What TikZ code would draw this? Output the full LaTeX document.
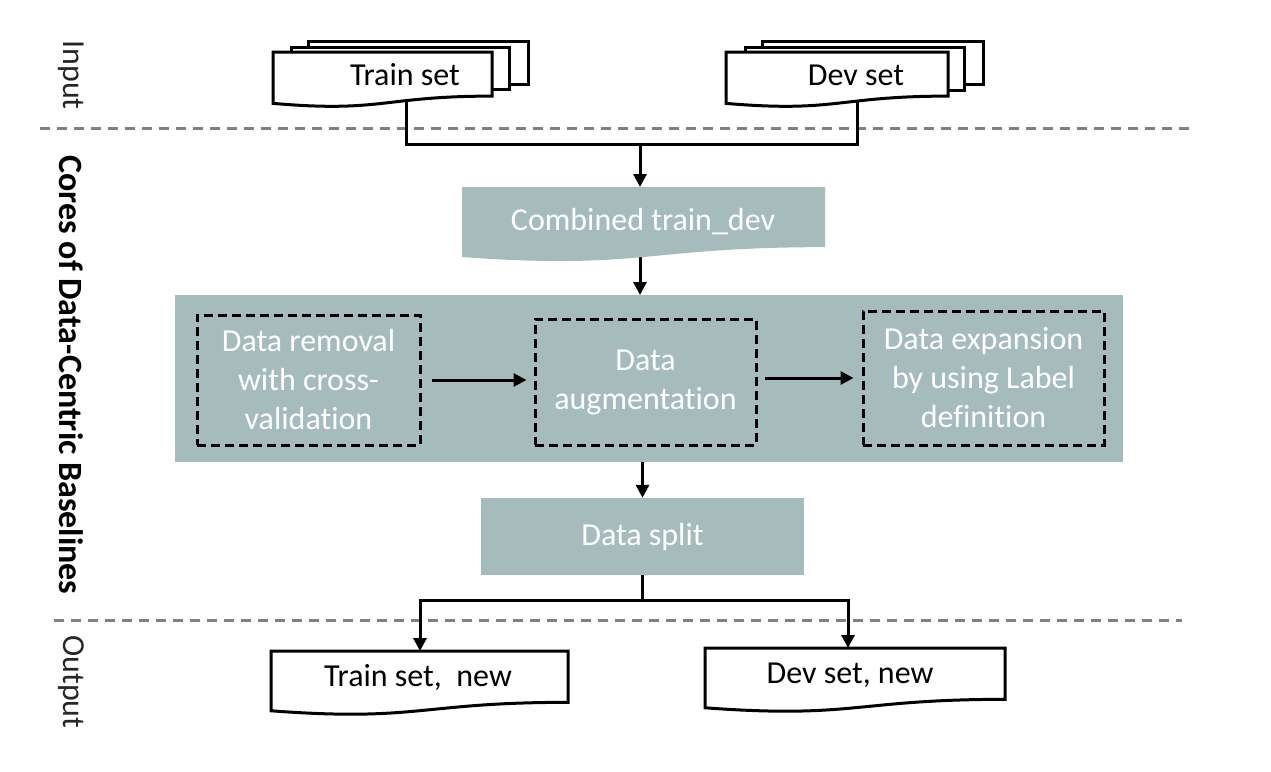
\documentclass[tikz,border=0pt]{standalone}
\usepackage{fontspec}
\setmainfont[Ligatures=NoCommon]{Carlito}
\usetikzlibrary{arrows.meta}
\definecolor{boxfill}{RGB}{166,187,188}
\definecolor{sepgray}{RGB}{128,128,128}
\newcommand\docshape[5]{%
  \path[#1] (#2,#3) -- (#4,#3) -- (#4,{#3+0.802*(#5)})
    .. controls ({(#2+#4)/2},{#3+0.802*(#5)}) and ({(#2+#4)/2},{#3+1.1075*(#5)}) ..
    (#2,{#3+0.934*(#5)}) -- cycle;}
\begin{document}
\begin{tikzpicture}[x=1pt,y=-1pt,
  conn/.style={line width=3pt,-{Triangle[length=13pt,width=13pt]}},
  plain/.style={line width=3pt},
  sep/.style={sepgray,line width=3pt,dash pattern=on 10pt off 7pt},
  dbox/.style={draw=black,line width=3pt,dash pattern=on 9pt off 5pt,
    text=white,font=\fontsize{32}{39}\selectfont,align=center,inner sep=0pt},
  fillbox/.style={fill=boxfill,inner sep=0pt,text=white,
    font=\fontsize{32}{39}\selectfont,align=center},
  wtext/.style={text=white,font=\fontsize{32}{39}\selectfont,align=center,inner sep=0pt},
  btext/.style={text=black,font=\fontsize{32}{39}\selectfont,align=center,inner sep=0pt},
  doc/.style={draw=black,line width=3pt,fill=white},
  side/.style={rotate=-90,font=\fontsize{32}{39}\selectfont,inner sep=0pt,text=black!85},
]
\useasboundingbox[fill=white] (0,0) rectangle (1271,771);

% separators
\draw[sep] (40,128) -- (1192,128);
\draw[sep] (54,620) -- (1182,620);

% side labels
\node[side] (lin) at (71,75) {Input};
\node[side,font=\fontsize{34}{40}\selectfont\bfseries,text=black] (lcore) at (71,375) {Cores of Data-Centric Baselines};
\node[side] (lout) at (71,682) {Output};

% top connectors (drawn first, hidden under the documents)
\coordinate (tout) at (406,92);
\coordinate (dout) at (857,92);
\coordinate (j) at (640,144);
\draw[plain] (tout) |- (j) -| (dout);
\coordinate (combtop) at (640,187);
\draw[conn] (j) -- (combtop);

% input documents
\draw[doc] (308,41) rectangle (528,84);
\draw[doc] (291,47) rectangle (509,89);
\docshape{doc}{273}{52}{492}{55}
\node[btext] (train) at (405,75) {Train set};

\draw[doc] (762,41) rectangle (983,84);
\draw[doc] (745,47) rectangle (964,90);
\docshape{doc}{726}{52}{948}{55}
\node[btext] (dev) at (856,75) {Dev set};

% combined
\coordinate (combout) at (640,240);
\node[fillbox,minimum width=948pt,minimum height=167pt,anchor=north west] (core) at (175,295) {};
\draw[conn] (combout) -- (combout |- core.north);
\docshape{fill=boxfill}{462}{187}{825}{75}
\node[wtext] (comb) at (643,222) {Combined train\_dev};

% inner steps
\node[dbox,minimum width=223pt,minimum height=130pt] (b1) at (308.5,380)
  {Data removal\\with cross-\\validation};
\node[dbox,minimum width=221pt,minimum height=126pt] (b2) at (645.5,382)
  {Data\\augmentation};
\node[dbox,minimum width=241pt,minimum height=134pt] (b3) at (983.5,378)
  {Data expansion\\by using Label\\definition};
\draw[conn,shorten <=10pt,shorten >=7pt] (b1.east) -- (b1.east -| b2.west);
\draw[conn,shorten <=7pt,shorten >=8pt] (b3.west -| b2.east) -- (b3.west);

% data split
\node[fillbox,minimum width=323pt,minimum height=77pt] (split) at (642.5,536.5) {Data split};
\draw[conn] (split.north |- core.south) -- (split.north);

% outputs
\coordinate (sj) at (642.5,600);
\coordinate (tnin) at (420,651);
\coordinate (dnin) at (848,648);
\draw[plain] (split.south) -- (sj);
\draw[conn] (sj) -| (tnin);
\draw[conn] (sj) -| (dnin);
\docshape{doc}{271}{651}{568}{64}
\node[btext] (tnew) at (418,678) {Train set,~ new};
\docshape{doc}{705}{648}{1005}{64}
\node[btext] (dnew) at (850,675) {Dev set, new};
\end{tikzpicture}
\end{document}
